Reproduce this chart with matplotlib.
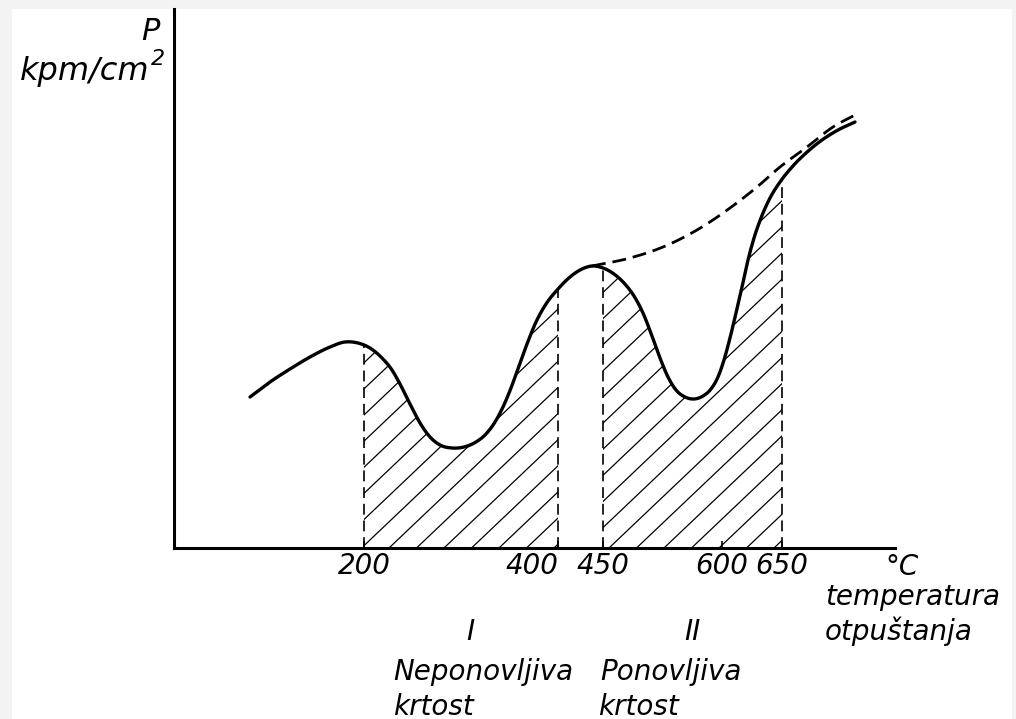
import matplotlib.pyplot as plt
import numpy as np
from matplotlib.patches import Polygon, Rectangle

W, H = 1016, 719

# impact toughness curve (schematic units, origin at the axes corner)
curve_x = [76, 96, 116, 136, 156, 171, 184, 196, 208, 218, 226, 236, 246, 256, 266,
           278, 290, 302, 312, 321, 329, 337, 345, 353, 362, 372, 384, 396, 408, 418,
           429, 440, 450, 460, 469, 478, 486, 494, 502, 511, 520, 529, 537, 544, 550,
           556, 562, 568, 574, 580, 587, 596, 606, 618, 632, 648, 664, 681]
curve_y = [151, 166, 179, 191, 201, 206, 205, 200, 190, 178, 164, 144, 125, 111, 103,
           100, 101, 106, 114, 126, 141, 160, 182, 204, 226, 244, 259, 271, 279, 282,
           280, 274, 265, 252, 235, 212, 190, 171, 158, 151, 149, 152, 159, 171, 188,
           210, 235, 261, 288, 310, 330, 350, 366, 381, 395, 408, 418, 426]

# dashed curve (without temper brittleness)
env_x = [418, 456, 489, 523, 556, 583, 606, 633, 659, 681]
env_y = [282, 290, 301, 318, 340, 361, 381, 401, 421, 433]

temp_pos = [190, 384, 429, 548, 608]
temps = ['200', '400', '450', '600', '650']
zones = [(190, 384), (429, 608)]


def smooth(x, y, n=600):
    # cubic hermite through the read points, slopes from neighbours
    x = np.asarray(x, float)
    y = np.asarray(y, float)
    h = np.diff(x)
    s = np.diff(y) / h
    d = np.empty_like(y)
    d[0], d[-1] = s[0], s[-1]
    d[1:-1] = (h[1:] * s[:-1] + h[:-1] * s[1:]) / (h[:-1] + h[1:])
    xs = np.linspace(x[0], x[-1], n)
    i = np.clip(np.searchsorted(x, xs) - 1, 0, len(x) - 2)
    t = (xs - x[i]) / h[i]
    ys = ((2 * t ** 3 - 3 * t ** 2 + 1) * y[i] + (t ** 3 - 2 * t ** 2 + t) * h[i] * d[i]
          + (-2 * t ** 3 + 3 * t ** 2) * y[i + 1] + (t ** 3 - t ** 2) * h[i] * d[i + 1])
    return xs, ys


sx, sy = smooth(curve_x, curve_y)
ex, ey = smooth(env_x, env_y, 200)

fig = plt.figure(figsize=(W / 100, H / 100), dpi=100, facecolor='#f3f3f3')
fig.patches.append(Rectangle((12 / W, 0), 1000 / W, 710 / H, transform=fig.transFigure,
                             facecolor='white', edgecolor='none', zorder=-5))
ax = fig.add_axes([174 / W, 171 / H, 721 / W, 539 / H])
ax.set_facecolor('none')
ax.set_xlim(0, 721)
ax.set_ylim(0, 539)

# hatched zones I and II
for a, b in zones:
    m = (sx > a) & (sx < b)
    ya, yb = np.interp(a, sx, sy), np.interp(b, sx, sy)
    verts = [(a, 0), (a, ya)] + list(zip(sx[m], sy[m])) + [(b, yb), (b, 0)]
    poly = Polygon(verts, closed=True, facecolor='none', edgecolor='none')
    ax.add_patch(poly)
    for x0 in np.arange(190 - 800, b, 27.5):
        ln, = ax.plot([x0, x0 + 800], [0, 800 * 0.95], color='black', lw=0.9)
        ln.set_clip_path(poly)
    ax.vlines([a, b], 0, [ya, yb], colors='black', lw=1.2,
              linestyles=(0, (6.5, 3.5)))

ax.plot(ex, ey, color='black', lw=2.0, linestyle=(0, (5, 2.5)))
ax.plot(sx, sy, color='black', lw=2.4, solid_capstyle='round', zorder=5)

for s in ['top', 'right']:
    ax.spines[s].set_visible(False)
for s in ['left', 'bottom']:
    ax.spines[s].set_linewidth(2.2)
ax.set_yticks([])
ax.set_xticks(temp_pos, temps)
ax.tick_params(axis='x', direction='in', length=5, width=1.2, pad=3,
               labelsize=20)
for lab in ax.get_xticklabels():
    lab.set_fontstyle('italic')
ax.get_xticklabels()[1].set_horizontalalignment('right')

txt = dict(fontsize=20, fontstyle='italic', color='black')


def put(x, y, s, **kw):
    fig.text(x / W, 1 - y / H, s, va='baseline', **{**txt, **kw})


put(160, 40, 'P', ha='right', fontsize=22)
put(20, 80, 'kpm/cm', ha='left', fontsize=23)
put(151, 65, '2', ha='left', fontsize=16)
put(885, 575, '°C', ha='left')
put(825, 605, 'temperatura', ha='left')
put(825, 640, 'otpuštanja', ha='left')
put(470, 640, 'I', ha='center')
put(692, 640, 'II', ha='center')
put(393, 680, 'Neponovljiva', ha='left')
put(393, 715, 'krtost', ha='left')
put(600, 680, 'Ponovljiva', ha='left')
put(598, 715, 'krtost', ha='left')

fig.savefig('out.png', dpi=100, facecolor=fig.get_facecolor())
